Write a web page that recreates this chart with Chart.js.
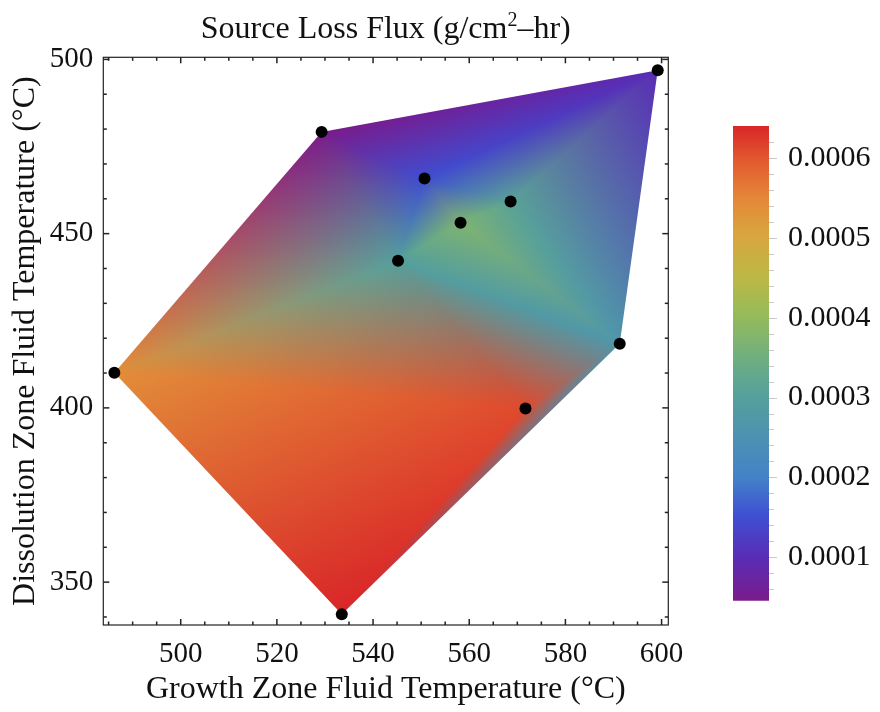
<!DOCTYPE html>
<html>
<head>
<meta charset="utf-8">
<script src="https://cdn.jsdelivr.net/npm/chart.js@4.4.0/dist/chart.umd.min.js"></script>
<style>
  body { margin: 0; background: #fff; }
  #wrap { position: relative; width: 880px; height: 712px; }
  #main { position: absolute; left: 0; top: 0; }
  #bar { position: absolute; left: 700px; top: 0; }
</style>
</head>
<body>
<div id="wrap">
  <canvas id="main" width="700" height="712"></canvas>
  <canvas id="bar" width="180" height="712"></canvas>
</div>
<script>
// measured points (growth zone T, dissolution zone T) and source loss flux
const growthTemp      = [486.2, 529.3, 533.5, 550.7, 568.6, 558.2, 545.2, 591.3, 571.7, 599.2];
const dissolutionTemp = [410.1, 479.2, 340.8, 465.8, 459.2, 453.1, 442.2, 418.4, 399.8, 496.9];
const lossFlux        = [0.00054, 0.0000456, 0.00064, 0.00015, 0.00031, 0.00037, 0.00030, 0.00027, 0.00061, 0.00010];

const xTicks = [500, 520, 540, 560, 580, 600];
const yTicks = [350, 400, 450, 500];
const fluxTicks = [0.0001, 0.0002, 0.0003, 0.0004, 0.0005, 0.0006];

const fluxMin = Math.min(...lossFlux);
const fluxMax = Math.max(...lossFlux);

// rainbow colour scheme, position 0..1 -> colour
const rainbow = [
  [0.00, [122, 28, 140]],
  [0.09, [90, 44, 180]],
  [0.18, [62, 80, 210]],
  [0.26, [68, 130, 200]],
  [0.43, [85, 160, 156]],
  [0.51, [111, 174, 128]],
  [0.60, [149, 187, 90]],
  [0.68, [188, 184, 70]],
  [0.77, [216, 166, 62]],
  [0.85, [229, 134, 56]],
  [0.93, [226, 88, 47]],
  [1.00, [217, 38, 40]],
];

const serif = 'Liberation Serif, Times New Roman, serif';

function colorAt(t) {
  t = Math.max(0, Math.min(1, t));
  for (let i = 1; i < rainbow.length; i++) {
    if (t <= rainbow[i][0]) {
      const [t0, c0] = rainbow[i - 1], [t1, c1] = rainbow[i];
      const f = (t - t0) / (t1 - t0);
      return c0.map((c, k) => c + (c1[k] - c) * f);
    }
  }
  return rainbow[rainbow.length - 1][1];
}

// Bowyer-Watson delaunay (in data units)
function delaunay(pts) {
  const n = pts.length;
  const all = pts.slice();
  all.push({x: -1e4, y: -1e4}, {x: 1e4, y: -1e4}, {x: 0, y: 1e4});
  let tris = [[n, n + 1, n + 2]];
  const inCircle = (t, p) => {
    const a = all[t[0]], b = all[t[1]], c = all[t[2]];
    const ax = a.x - p.x, ay = a.y - p.y, bx = b.x - p.x, by = b.y - p.y, cx = c.x - p.x, cy = c.y - p.y;
    const det = (ax * ax + ay * ay) * (bx * cy - cx * by) - (bx * bx + by * by) * (ax * cy - cx * ay) + (cx * cx + cy * cy) * (ax * by - bx * ay);
    const orient = (b.x - a.x) * (c.y - a.y) - (b.y - a.y) * (c.x - a.x);
    return orient > 0 ? det > 0 : det < 0;
  };
  for (let i = 0; i < n; i++) {
    const p = all[i];
    const bad = tris.filter(t => inCircle(t, p));
    const edges = [];
    bad.forEach(t => {
      [[t[0], t[1]], [t[1], t[2]], [t[2], t[0]]].forEach(e => {
        const shared = bad.some(o => o !== t && o.includes(e[0]) && o.includes(e[1]));
        if (!shared) edges.push(e);
      });
    });
    tris = tris.filter(t => !bad.includes(t));
    edges.forEach(e => tris.push([e[0], e[1], i]));
  }
  return tris.filter(t => t.every(v => v < n));
}

function hull(pts) {
  const p = pts.slice().sort((a, b) => a.x - b.x || a.y - b.y);
  const cross = (o, a, b) => (a.x - o.x) * (b.y - o.y) - (a.y - o.y) * (b.x - o.x);
  const lower = [], upper = [];
  p.forEach(q => { while (lower.length >= 2 && cross(lower[lower.length - 2], lower[lower.length - 1], q) <= 0) lower.pop(); lower.push(q); });
  p.slice().reverse().forEach(q => { while (upper.length >= 2 && cross(upper[upper.length - 2], upper[upper.length - 1], q) <= 0) upper.pop(); upper.push(q); });
  return lower.slice(0, -1).concat(upper.slice(0, -1));
}

// density fill under the points: each vertex gets its colour, blended across triangles
const densityPlugin = {
  id: 'density',
  beforeDatasetsDraw(chart) {
    const {ctx, chartArea: a, scales: {x, y}} = chart;
    const tri = delaunay(growthTemp.map((g, i) => ({x: g, y: dissolutionTemp[i]})));
    const P = growthTemp.map((g, i) => ({
      x: x.getPixelForValue(g),
      y: y.getPixelForValue(dissolutionTemp[i]),
      c: colorAt((lossFlux[i] - fluxMin) / (fluxMax - fluxMin)),
    }));
    const tris = tri.map(t => {
      const [A, B, C] = t.map(k => P[k]);
      const d = (B.y - C.y) * (A.x - C.x) + (C.x - B.x) * (A.y - C.y);
      return {A, B, C, d};
    });
    const w = Math.ceil(a.right - a.left), h = Math.ceil(a.bottom - a.top);
    const off = document.createElement('canvas');
    off.width = w; off.height = h;
    const octx = off.getContext('2d');
    const img = octx.createImageData(w, h);
    for (let py = 0; py < h; py++) {
      for (let px = 0; px < w; px++) {
        const cx = a.left + px + 0.5, cy = a.top + py + 0.5;
        let best = null, bestMin = -Infinity;
        for (const t of tris) {
          const l1 = ((t.B.y - t.C.y) * (cx - t.C.x) + (t.C.x - t.B.x) * (cy - t.C.y)) / t.d;
          const l2 = ((t.C.y - t.A.y) * (cx - t.C.x) + (t.A.x - t.C.x) * (cy - t.C.y)) / t.d;
          const l3 = 1 - l1 - l2;
          const m = Math.min(l1, l2, l3);
          if (m > bestMin) { bestMin = m; best = [t, l1, l2, l3]; }
        }
        if (bestMin < -0.2) continue;
        const [t, l1, l2, l3] = best;
        const k = (py * w + px) * 4;
        for (let j = 0; j < 3; j++) img.data[k + j] = l1 * t.A.c[j] + l2 * t.B.c[j] + l3 * t.C.c[j];
        img.data[k + 3] = 255;
      }
    }
    octx.putImageData(img, 0, 0);
    const H = hull(P);
    ctx.save();
    ctx.beginPath();
    H.forEach((q, i) => i ? ctx.lineTo(q.x, q.y) : ctx.moveTo(q.x, q.y));
    ctx.closePath();
    ctx.clip();
    ctx.drawImage(off, a.left, a.top);
    ctx.restore();
  },
  afterDraw(chart) {
    // frame with inward ticks, mirrored on top and right
    const {ctx, chartArea: a, scales: {x, y}} = chart;
    ctx.save();
    ctx.strokeStyle = '#222';
    ctx.lineWidth = 1.2;
    ctx.strokeRect(a.left, a.top, a.right - a.left, a.bottom - a.top);
    ctx.lineWidth = 1.5;
    const tick = (x1, y1, x2, y2) => { ctx.beginPath(); ctx.moveTo(x1, y1); ctx.lineTo(x2, y2); ctx.stroke(); };
    for (let v = 485; v <= x.max; v += 5) {
      const px = x.getPixelForValue(v);
      const len = xTicks.includes(v) ? 6 : 3.5;
      tick(px, a.bottom, px, a.bottom - len);
      tick(px, a.top, px, a.top + len);
    }
    for (let v = 340; v <= y.max; v += 10) {
      const py = y.getPixelForValue(v);
      const len = yTicks.includes(v) ? 6 : 3.5;
      tick(a.left, py, a.left + len, py);
      tick(a.right, py, a.right - len, py);
    }
    // title with superscript
    ctx.fillStyle = '#111';
    ctx.textBaseline = 'alphabetic';
    const f1 = '32px ' + serif, f2 = '20px ' + serif;
    const parts = [['Source Loss Flux (g/cm', f1, 0], ['2', f2, -12], ['\u2013hr)', f1, 0]];
    let total = 0;
    parts.forEach(p => { ctx.font = p[1]; total += ctx.measureText(p[0]).width; });
    let tx = (a.left + a.right) / 2 - total / 2;
    parts.forEach(p => { ctx.font = p[1]; ctx.fillText(p[0], tx, 38 + p[2]); tx += ctx.measureText(p[0]).width; });
    ctx.restore();
  }
};

const tickFont = {family: serif, size: 29};
const titleFont = {family: serif, size: 32};

new Chart(document.getElementById('main'), {
  type: 'scatter',
  data: {
    datasets: [{
      data: growthTemp.map((g, i) => ({x: g, y: dissolutionTemp[i]})),
      pointRadius: 6,
      pointHoverRadius: 6,
      backgroundColor: '#000',
      borderWidth: 0,
    }],
  },
  options: {
    responsive: false,
    animation: false,
    layout: {padding: {top: 57.3, right: 31.7, left: 0, bottom: 0}},
    plugins: {legend: {display: false}, tooltip: {enabled: false}},
    scales: {
      x: {
        type: 'linear', min: 483.9, max: 601.4,
        afterBuildTicks: s => { s.ticks = xTicks.map(v => ({value: v})); },
        afterFit: s => { s.height = 87; },
        grid: {display: false, drawTicks: false},
        border: {display: false},
        ticks: {padding: 12, color: '#111', font: tickFont},
        title: {display: true, text: 'Growth Zone Fluid Temperature (\u00b0C)', color: '#111', font: titleFont, padding: {top: 0, bottom: 3}},
      },
      y: {
        type: 'linear', min: 337.7, max: 500.6,
        afterBuildTicks: s => { s.ticks = yTicks.map(v => ({value: v})); },
        afterFit: s => { s.width = 103.3; },
        grid: {display: false, drawTicks: false},
        border: {display: false},
        ticks: {padding: 10, color: '#111', font: tickFont},
        title: {display: true, text: 'Dissolution Zone Fluid Temperature (\u00b0C)', color: '#111', font: titleFont, padding: {top: 6, bottom: 0}},
      },
    },
  },
  plugins: [densityPlugin],
});

// colour bar legend
const barTicksPlugin = {
  id: 'barTicks',
  afterDraw(chart) {
    const {ctx, chartArea: a, scales: {y}} = chart;
    ctx.save();
    ctx.strokeStyle = '#c8c8c8';
    ctx.lineWidth = 1;
    for (let v = 0.00006; v < fluxMax; v += 0.00002) {
      const py = Math.round(y.getPixelForValue(v)) + 0.5;
      const major = fluxTicks.some(t => Math.abs(t - v) < 1e-9);
      ctx.beginPath();
      ctx.moveTo(a.right, py);
      ctx.lineTo(a.right + (major ? 8 : 5), py);
      ctx.stroke();
    }
    ctx.restore();
  }
};

new Chart(document.getElementById('bar'), {
  type: 'bar',
  data: {
    labels: [''],
    datasets: [{
      data: [[fluxMin, fluxMax]],
      barPercentage: 1,
      categoryPercentage: 1,
      borderWidth: 0,
      backgroundColor: (c) => {
        const a = c.chart.chartArea;
        if (!a) return '#888';
        const g = c.chart.ctx.createLinearGradient(0, a.bottom, 0, a.top);
        rainbow.forEach(([t, col]) => g.addColorStop(t, `rgb(${col.join(',')})`));
        return g;
      },
    }],
  },
  options: {
    responsive: false,
    animation: false,
    layout: {padding: {left: 33, top: 126, bottom: 111.3, right: 0}},
    plugins: {legend: {display: false}, tooltip: {enabled: false}},
    scales: {
      x: {display: false},
      y: {
        position: 'right', min: fluxMin, max: fluxMax,
        afterBuildTicks: s => { s.ticks = fluxTicks.map(v => ({value: v})); },
        afterFit: s => { s.width = 111; },
        grid: {display: false, drawTicks: false},
        border: {display: false},
        ticks: {padding: 19, color: '#111', font: {family: serif, size: 30}, callback: v => v.toFixed(4)},
      },
    },
  },
  plugins: [barTicksPlugin],
});
</script>
</body>
</html>
